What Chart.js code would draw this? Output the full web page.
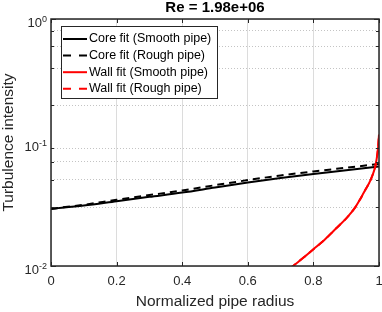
<!DOCTYPE html>
<html>
<head>
<meta charset="utf-8">
<script src="https://cdn.jsdelivr.net/npm/chart.js@4.4.1/dist/chart.umd.min.js"></script>
<style>
  html, body { margin: 0; padding: 0; background: #fff; }
  canvas { display: block; }
</style>
</head>
<body>
<canvas id="chart" width="382" height="312"></canvas>
<script>
// Turbulence intensity fits, Re = 1.98e+06
const titleText = 'Re = 1.98e+06';
const seriesNames = ['Core fit (Smooth pipe)', 'Core fit (Rough pipe)', 'Wall fit (Smooth pipe)', 'Wall fit (Rough pipe)'];

const coreR = [0, 0.1, 0.2, 0.3, 0.4, 0.5, 0.6, 0.7, 0.8, 0.9, 1.0];
const coreSmooth = [0.0290, 0.0309, 0.0335, 0.0363, 0.0393, 0.0432, 0.0474, 0.0515, 0.0555, 0.0595, 0.0640];
const coreRough = [0.0291, 0.0313, 0.0344, 0.0375, 0.0409, 0.0451, 0.0496, 0.0541, 0.0583, 0.0625, 0.0670];

const wallR = [0.730, 0.738, 0.770, 0.800, 0.835, 0.868, 0.905, 0.928, 0.942, 0.953, 0.962, 0.970, 0.976, 0.982, 0.988, 0.993, 0.997, 1.000];
const wallSmooth = [0.0096, 0.0100, 0.0117, 0.01365, 0.0164, 0.0200, 0.0251, 0.0300, 0.0345, 0.0390, 0.0430, 0.0470, 0.0510, 0.0560, 0.0630, 0.0740, 0.0900, 0.1160];
const wallRough = [0.0096, 0.0100, 0.0117, 0.01365, 0.0164, 0.0200, 0.0251, 0.0300, 0.0345, 0.0390, 0.0430, 0.0470, 0.0510, 0.0560, 0.0630, 0.0740, 0.0900, 0.1160];

const xTicks = [0, 0.2, 0.4, 0.6, 0.8, 1];
const xTickLabels = ['0', '0.2', '0.4', '0.6', '0.8', '1'];
const yExponents = [-2, -1, 0];

const TEXT = '#262626';
const FONT = '"Liberation Sans", Arial, sans-serif';

const pts = (xs, ys) => xs.map((x, i) => ({ x: x, y: ys[i] }));
const isMajor = v => Math.abs(Math.log10(v) - Math.round(Math.log10(v))) < 1e-6;

Chart.defaults.font.family = FONT;
Chart.defaults.color = TEXT;

const framePlugin = {
  id: 'frame',
  afterDatasetsDraw(chart) {
    const { ctx, chartArea: a, scales: { x, y } } = chart;
    ctx.save();

    // title
    ctx.fillStyle = '#000';
    ctx.font = 'bold 15px ' + FONT;
    ctx.textAlign = 'center';
    ctx.textBaseline = 'alphabetic';
    ctx.fillText(titleText, (a.left + a.right) / 2, 12);

    // inner ticks
    ctx.strokeStyle = TEXT;
    ctx.lineWidth = 1;
    ctx.beginPath();
    xTicks.forEach(v => {
      const px = Math.round(x.getPixelForValue(v)) + 0.5;
      ctx.moveTo(px, a.bottom); ctx.lineTo(px, a.bottom - 4);
      ctx.moveTo(px, a.top); ctx.lineTo(px, a.top + 4);
    });
    y.ticks.forEach(t => {
      const py = Math.round(y.getPixelForValue(t.value)) + 0.5;
      const len = isMajor(t.value) ? 5 : 3;
      ctx.moveTo(a.left, py); ctx.lineTo(a.left + len, py);
      ctx.moveTo(a.right, py); ctx.lineTo(a.right - len, py);
    });
    ctx.stroke();

    // box
    ctx.lineWidth = 1.5;
    ctx.strokeRect(a.left, a.top, a.right - a.left, a.bottom - a.top);

    // y tick labels as 10^n
    ctx.fillStyle = TEXT;
    ctx.textAlign = 'left';
    yExponents.forEach(e => {
      const py = y.getPixelForValue(Math.pow(10, e));
      const sup = String(e);
      ctx.font = '9px ' + FONT;
      const w2 = ctx.measureText(sup).width;
      ctx.font = '13px ' + FONT;
      const w1 = ctx.measureText('10').width;
      const right = a.left - 4;
      ctx.fillText('10', right - w2 - w1, py + 8);
      ctx.font = '9px ' + FONT;
      ctx.fillText(sup, right - w2, py + 3);
    });

    // legend
    const L = { x: 61.5, y: 26.5, w: 156, h: 72 };
    ctx.fillStyle = '#fff';
    ctx.fillRect(L.x, L.y, L.w, L.h);
    ctx.strokeStyle = TEXT;
    ctx.lineWidth = 1;
    ctx.strokeRect(L.x, L.y, L.w, L.h);
    ctx.font = '12.5px ' + FONT;
    ctx.textBaseline = 'middle';
    chart.data.datasets.forEach((ds, i) => {
      const ry = 39 + i * 16.6;
      ctx.strokeStyle = ds.borderColor;
      ctx.lineWidth = 2;
      ctx.setLineDash(ds.borderDash && ds.borderDash.length ? [8, 8] : []);
      ctx.beginPath();
      ctx.moveTo(63, ry); ctx.lineTo(87, ry);
      ctx.stroke();
      ctx.setLineDash([]);
      ctx.fillStyle = '#000';
      ctx.fillText(ds.label, 89, ry);
    });

    ctx.restore();
  }
};

new Chart(document.getElementById('chart').getContext('2d'), {
  type: 'line',
  data: {
    datasets: [
      { label: seriesNames[0], data: pts(coreR, coreSmooth), borderColor: '#000000', borderWidth: 2, order: 4 },
      { label: seriesNames[1], data: pts(coreR, coreRough), borderColor: '#000000', borderWidth: 2, borderDash: [7, 5], order: 3 },
      { label: seriesNames[2], data: pts(wallR, wallSmooth), borderColor: '#ff0000', borderWidth: 2, order: 2 },
      { label: seriesNames[3], data: pts(wallR, wallRough), borderColor: '#ff0000', borderWidth: 2, borderDash: [7, 5], order: 1 }
    ]
  },
  options: {
    responsive: false,
    animation: false,
    devicePixelRatio: 1,
    elements: {
      point: { radius: 0, hoverRadius: 0 },
      line: { cubicInterpolationMode: 'monotone', fill: false }
    },
    layout: { padding: { top: 19, right: 3, left: 0, bottom: 0 }, autoPadding: false },
    plugins: {
      legend: { display: false },
      title: { display: false },
      tooltip: { enabled: false }
    },
    scales: {
      x: {
        type: 'linear',
        min: 0,
        max: 1,
        afterBuildTicks: s => { s.ticks = xTicks.map(v => ({ value: v })); },
        afterFit: s => { s.height = 46; s.paddingLeft = 0; s.paddingRight = 0; },
        ticks: {
          font: { size: 13 },
          color: TEXT,
          padding: 7.5,
          maxRotation: 0,
          callback: (v, i) => xTickLabels[i]
        },
        grid: { color: '#dcdcdc', lineWidth: 1, drawTicks: false },
        border: { display: false },
        title: {
          display: true,
          text: 'Normalized pipe radius',
          color: TEXT,
          font: { size: 15.5, lineHeight: 1.2 },
          padding: { top: 0, bottom: 1 }
        }
      },
      y: {
        type: 'logarithmic',
        min: 0.01,
        max: 1,
        afterBuildTicks: s => {
          const t = [];
          yExponents.forEach(e => {
            const base = Math.pow(10, e);
            if (e === 0) { t.push({ value: 1 }); return; }
            for (let k = 1; k <= 9; k++) t.push({ value: +(k * base).toPrecision(3) });
          });
          s.ticks = t;
        },
        afterFit: s => { s.width = 51; s.paddingTop = 0; s.paddingBottom = 0; },
        ticks: { callback: () => '', padding: 4 },
        grid: {
          drawTicks: false,
          lineWidth: 1,
          color: c => (c.tick && isMajor(c.tick.value)) ? '#dcdcdc' : '#c4c4c4'
        },
        border: {
          display: false,
          dash: c => (c.tick && !isMajor(c.tick.value)) ? [1, 2] : []
        },
        title: {
          display: true,
          text: 'Turbulence intensity',
          color: TEXT,
          font: { size: 15.5, lineHeight: 1 },
          padding: { top: 1, bottom: 0 }
        }
      }
    }
  },
  plugins: [framePlugin]
});
</script>
</body>
</html>
